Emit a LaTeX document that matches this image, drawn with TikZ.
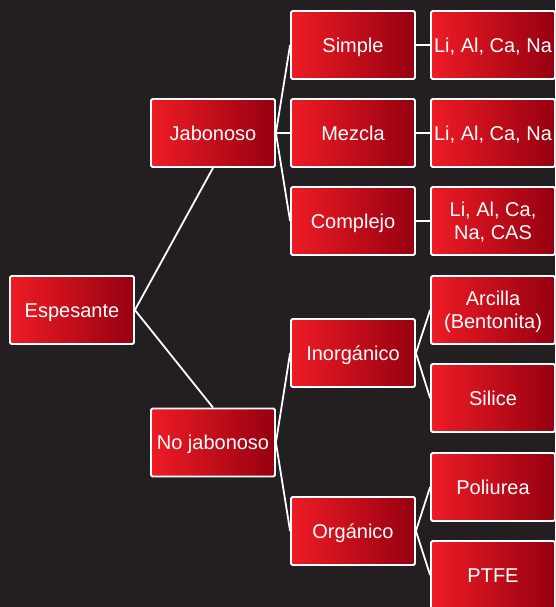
\documentclass[tikz,border=0pt]{standalone}
\usepackage{fontspec}
\setmainfont{Liberation Sans}
\definecolor{bgdark}{HTML}{231F20}
\definecolor{redL}{HTML}{EE1C25}
\definecolor{redR}{HTML}{960010}
\newcommand{\boxtext}[1]{\raisebox{-2.5pt}[\height][\depth]{\begin{tabular}{@{}c@{}}#1\end{tabular}}}
\begin{document}
\begin{tikzpicture}[x=1pt,y=-1pt,
  box/.style={draw=white, line width=1.8pt, rounded corners=1.5pt,
    left color=redL, right color=redR,
    minimum width=124pt, minimum height=68pt, inner sep=0pt,
    text=white, align=center, font=\fontsize{20}{23.5}\selectfont},
  link/.style={draw=white, line width=1.8pt}]
\useasboundingbox (0,0) rectangle (555,607);
\clip (0,0) rectangle (555,607);
\fill[bgdark] (0,0) rectangle (555,607);

\node[box] (esp) at (72,310) {\boxtext{Espesante}};
\node[box] (jab) at (213,133) {\boxtext{Jabonoso}};
\node[box] (nojab) at (213,442.5) {\boxtext{No jabonoso}};
\node[box] (simple) at (353,45) {\boxtext{Simple}};
\node[box] (mezcla) at (353,133) {\boxtext{Mezcla}};
\node[box] (complejo) at (353,221) {\boxtext{Complejo}};
\node[box] (inorg) at (353,353) {\boxtext{Inorgánico}};
\node[box] (org) at (353,531) {\boxtext{Orgánico}};
\node[box] (l1) at (493,45) {\boxtext{Li, Al, Ca, Na}};
\node[box] (l2) at (493,133) {\boxtext{Li, Al, Ca, Na}};
\node[box] (l3) at (493,221) {\boxtext{Li, Al, Ca,\\Na, CAS}};
\node[box] (arc) at (493,310) {\boxtext{Arcilla\\(Bentonita)}};
\node[box] (sil) at (493,398) {\boxtext{Silice}};
\node[box] (poli) at (493,487) {\boxtext{Poliurea}};
\node[box] (ptfe) at (493,575) {\boxtext{PTFE}};

\draw[link] (esp.east) -- (jab.south);
\draw[link] (esp.east) -- (nojab.north);
\draw[link] (jab.east) -- (simple.west);
\draw[link] (jab.east) -- (mezcla.west);
\draw[link] (jab.east) -- (complejo.west);
\draw[link] (nojab.east) -- (inorg.west);
\draw[link] (nojab.east) -- (org.west);
\draw[link] (simple.east) -- (l1.west);
\draw[link] (mezcla.east) -- (l2.west);
\draw[link] (complejo.east) -- (l3.west);
\draw[link] (inorg.east) -- (arc.west);
\draw[link] (inorg.east) -- (sil.west);
\draw[link] (org.east) -- (poli.west);
\draw[link] (org.east) -- (ptfe.west);
\end{tikzpicture}
\end{document}
